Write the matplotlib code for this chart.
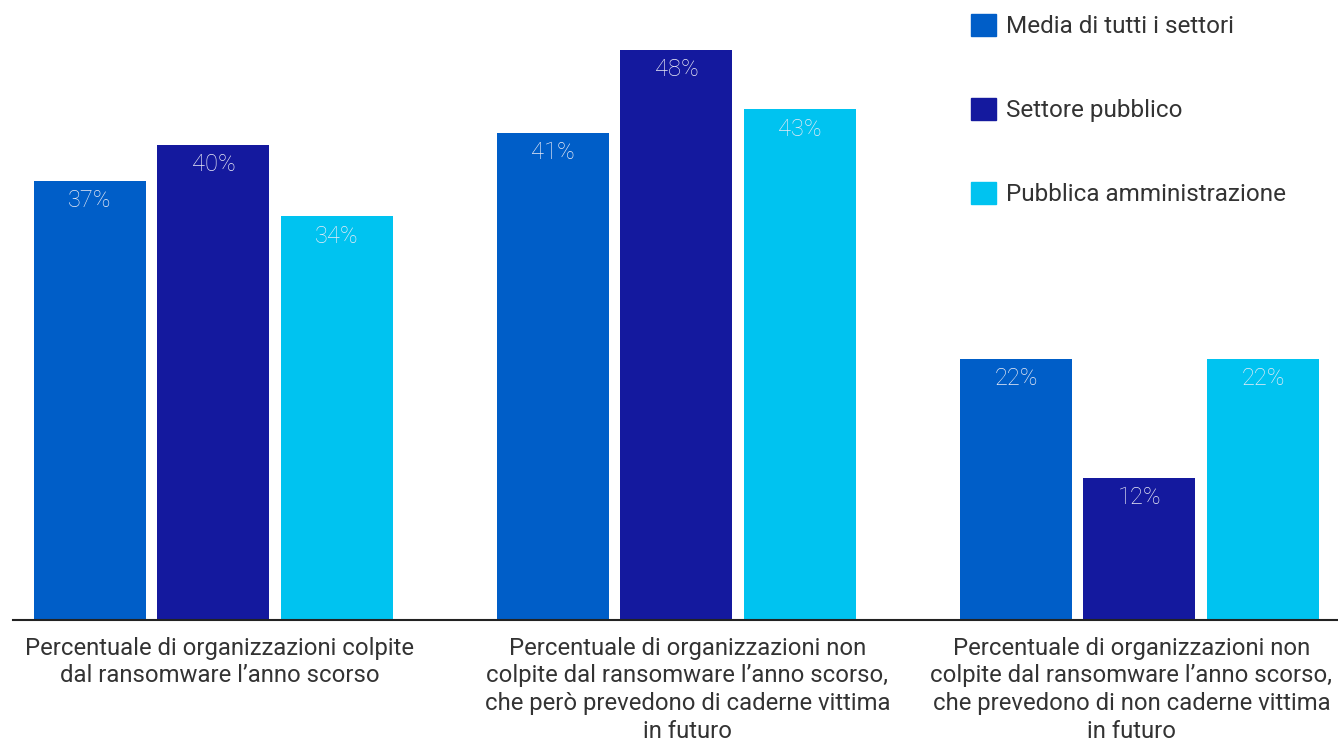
import numpy as np
import matplotlib.pyplot as plt
from matplotlib.patches import Patch
from matplotlib.transforms import ScaledTranslation

plt.rcParams['font.family'] = ['Roboto', 'DejaVu Sans']

categories = [
    "Percentuale di organizzazioni colpite\ndal ransomware l\u2019anno scorso",
    "Percentuale di organizzazioni non\ncolpite dal ransomware l\u2019anno scorso,\nche per\u00f2 prevedono di caderne vittima\nin futuro",
    "Percentuale di organizzazioni non\ncolpite dal ransomware l\u2019anno scorso,\nche prevedono di non caderne vittima\nin futuro",
]
series_names = ["Media di tutti i settori", "Settore pubblico", "Pubblica amministrazione"]
media = [37, 41, 22]
pubblico = [40, 48, 12]
pa = [34, 43, 22]
colors = ["#005EC8", "#14199E", "#00C3F0"]

W, H = 1338, 744
fig = plt.figure(figsize=(W / 100, H / 100), dpi=100)
# axes: left edge at 13px, baseline at 620px from top
ax = fig.add_axes([13 / W, (H - 620) / H, (W - 13) / W, 52 * 11.875 / H])

x = np.arange(len(categories))
width = 112 / 463
step = 123.5 / 463
for i, (vals, name, c) in enumerate(zip([media, pubblico, pa], series_names, colors)):
    pos = x + (i - 1) * step
    bars = ax.bar(pos, vals, width=width, color=c, label=name)
    for b, v in zip(bars, vals):
        ax.annotate(f"{v}%", (b.get_x() + b.get_width() / 2, v),
                    xytext=(0, -6), textcoords="offset points",
                    ha="center", va="top", fontsize=17, color="#ECECF6",
                    fontweight="light")

ax.set_xlim(-200.5 / 463, -200.5 / 463 + (W - 13) / 463)
ax.set_ylim(0, 52)
for s in ["top", "right", "left"]:
    ax.spines[s].set_visible(False)
ax.spines["bottom"].set_linewidth(1.5)
ax.spines["bottom"].set_color("#222222")
ax.set_yticks([])
ax.set_xticks(x)
ax.set_xticklabels(categories, fontsize=17.2, color="#333333", linespacing=1.26)
ax.tick_params(axis="x", length=0, pad=12)

# nudge the category captions sideways (pixels at dpi 100)
for lbl, dx in zip(ax.get_xticklabels(), [6, 11, -8]):
    lbl.set_transform(lbl.get_transform() + ScaledTranslation(dx / 100, 0, fig.dpi_scale_trans))

handles = [Patch(color=c) for c in colors]
fig.legend(handles, series_names, loc="upper left",
           bbox_to_anchor=(961 / W, 1 - 4 / H), frameon=False,
           fontsize=17.5, labelcolor="#333333",
           handlelength=1.03, handleheight=1.03, handletextpad=0.42,
           labelspacing=2.45, borderaxespad=0)

fig.savefig("out.png", dpi=100)
